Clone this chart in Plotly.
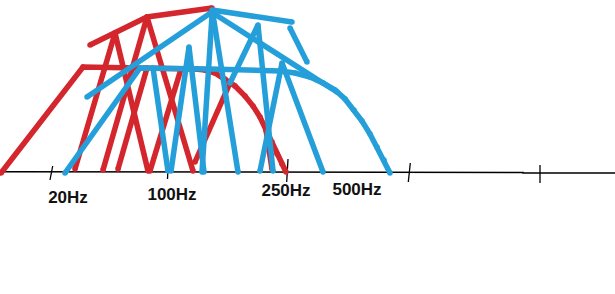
import plotly.graph_objects as go

BASE = 172  # baseline row in the drawing; levels are heights above it

# ---- red strokes (x, height above baseline) ----
red_curve = [(1, -1), (83, 105), (195, 103), (205, 102), (215, 99), (225, 93), (235, 86),
             (245, 76), (253, 66), (260, 55), (266, 43), (272, 30), (277, 18), (282, 8), (286, 0)]
red_top = [(90, 127), (147, 155), (212, 164)]
red_a = [(75, 3), (115, 139)]
red_b = [(115, 139), (148, 1)]
red_c = [(103, 2), (147, 155)]
red_d = [(147, 155), (193, 1)]
red_e = [(118, 3), (147, 104)]
red_f = [(150, 1), (181, 103)]
red_g = [(195, 10), (230, 89)]
red_h = [(266, 42), (272, 3)]

# ---- blue strokes ----
blue_curve = [(65, -1), (140, 104), (210, 103), (280, 101), (295, 99), (310, 95), (323, 89),
              (335, 82), (345, 73), (354, 62), (362, 51), (370, 38), (377, 25), (384, 12), (390, -1)]
blue_diag = [(87, 75), (212, 160)]
blue_top = [(212, 162), (292, 150)]
blue_short = [(290, 144), (307, 110)]
blue_peak_diag = [(213, 159), (337, 80)]
blue_peak_l = [(212, 157), (202, 0)]
blue_peak_r = [(213, 157), (238, 0)]
blue_leg = [(153, 104), (168, 1)]
blue_v1 = [(171, 1), (189, 125), (204, 0)]
blue_v2 = [(230, 89), (258, 147), (273, 1)]
blue_v3 = [(260, 1), (282, 109), (323, 0)]

red_strokes = [red_curve, red_top, red_a, red_b, red_c, red_d, red_e, red_f, red_g, red_h]
blue_strokes = [blue_curve, blue_diag, blue_top, blue_short, blue_peak_diag, blue_peak_l,
                blue_peak_r, blue_leg, blue_v1, blue_v2, blue_v3]

# ---- axis, ticks and labels ----
axis_line = [(0, 0.2), (150, 0.2), (150, -0.4), (523, -0.4), (523, -1), (615, -1)]
tick_marks = [[(52.7, 6), (50, -8)], [(168, 5), (167.5, -7)], [(288, 13), (286.7, -10)],
              [(410.3, 9), (408.3, -10)], [(540, 7), (540, -11)]]
label_text = ["20Hz", "100Hz", "250Hz", "500Hz"]
label_x = [68, 172, 286, 357]
label_level = [-26.5, -23.5, -20, -19]

RED = "#d3262d"
BLUE = "#259fd9"
W = 5.5


def joined(strokes):
    xs, ys = [], []
    for s in strokes:
        xs += [p[0] for p in s] + [None]
        ys += [p[1] for p in s] + [None]
    return xs, ys


fig = go.Figure()

ax, ay = joined([axis_line])
fig.add_trace(go.Scatter(x=ax, y=ay, mode="lines", line=dict(color="#000000", width=1.5),
                         hoverinfo="skip"))
tx, ty = joined(tick_marks)
fig.add_trace(go.Scatter(x=tx, y=ty, mode="lines", line=dict(color="#000000", width=1.3),
                         hoverinfo="skip"))

for strokes, col in ((red_strokes, RED), (blue_strokes, BLUE)):
    for s in strokes:
        fig.add_trace(go.Scatter(x=[p[0] for p in s], y=[p[1] for p in s], mode="lines+markers",
                                 line=dict(color=col, width=W),
                                 marker=dict(color=col, size=W, line=dict(width=0)),
                                 hoverinfo="skip"))

fig.add_trace(go.Scatter(x=label_x, y=label_level, mode="text", text=label_text,
                         textposition="middle center",
                         textfont=dict(family="Liberation Sans, Arial, sans-serif", size=17,
                                       color="#111111", weight="bold"),
                         hoverinfo="skip"))

fig.update_layout(
    width=615, height=294, margin=dict(l=0, r=0, t=0, b=0),
    paper_bgcolor="white", plot_bgcolor="white", showlegend=False,
    xaxis=dict(range=[0, 615], visible=False, fixedrange=True),
    yaxis=dict(range=[BASE - 294, BASE], visible=False, fixedrange=True),
)

fig.write_html("out.html")
